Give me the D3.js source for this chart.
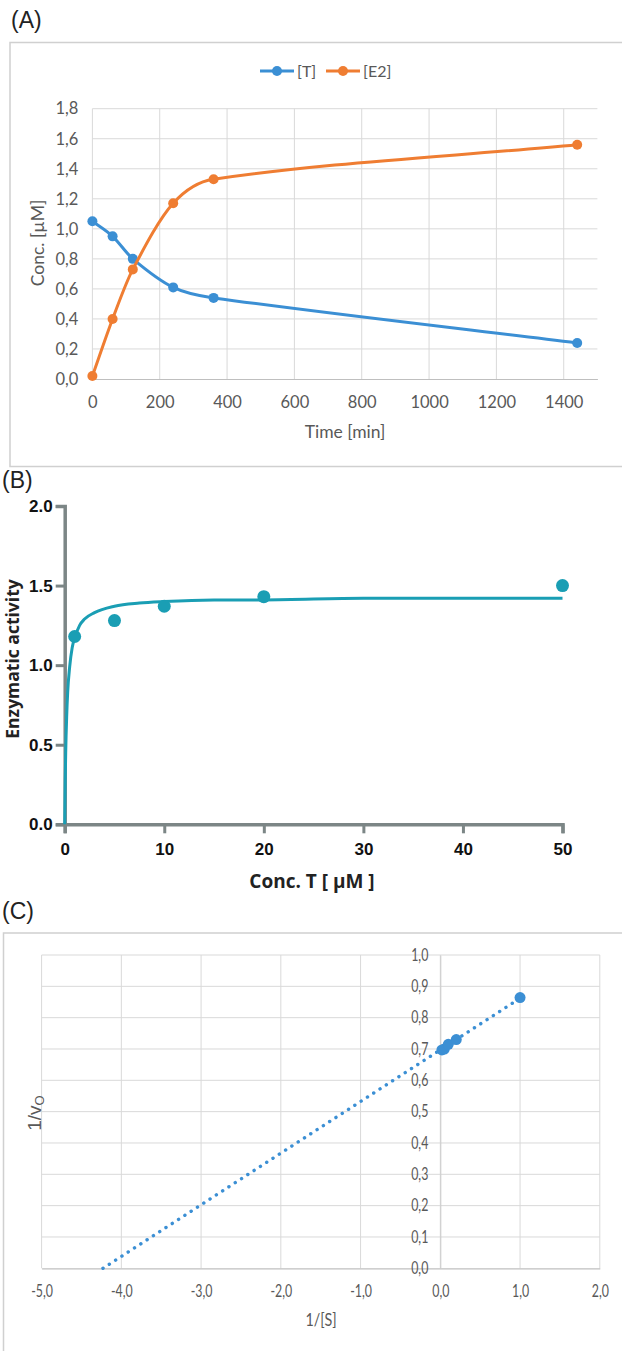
<!DOCTYPE html>
<html>
<head>
<meta charset="utf-8">
<script src="https://cdn.jsdelivr.net/npm/d3@7"></script>
<style>
  body { margin: 0; background: #fff; overflow: hidden; }
  svg { display: block; }
  .xl text { font-family: Lato, "Open Sans", sans-serif; fill: #595959; }
</style>
</head>
<body>
<div id="chart"></div>
<script>
// ---- data ----
// (A) time course
const timeMin = [0, 60, 120, 240, 360, 1440];
const concT = [1.05, 0.95, 0.80, 0.61, 0.54, 0.24];
const concE2 = [0.02, 0.40, 0.73, 1.17, 1.33, 1.56];
const ticksTime = [0, 200, 400, 600, 800, 1000, 1200, 1400];
const ticksConc = [0, 0.2, 0.4, 0.6, 0.8, 1.0, 1.2, 1.4, 1.6, 1.8];

// (B) enzymatic activity vs substrate
const substrate = [1, 5, 10, 20, 50];
const activity = [1.18, 1.28, 1.37, 1.43, 1.50];
// fitted curve
const fitX = [0, 0.05, 0.1, 0.2, 0.3, 0.5, 0.75, 1, 1.5, 2, 3, 5, 7.5, 10, 15, 20, 30, 40, 50];
const fitY = [0, 0.27, 0.45, 0.68, 0.83, 0.99, 1.11, 1.17, 1.25, 1.29, 1.33, 1.37, 1.39, 1.40, 1.41, 1.41, 1.42, 1.42, 1.42];
const ticksSub = [0, 10, 20, 30, 40, 50];
const ticksAct = [0, 0.5, 1.0, 1.5, 2.0];

// (C) Lineweaver-Burk
const invS = [0.02, 0.05, 0.1, 0.2, 1.0];
const invV = [0.697, 0.70, 0.715, 0.73, 0.864];
const trendX = [-4.23, 1.0];
const trendY = [0, 0.862];
const ticksInvS = [-5, -4, -3, -2, -1, 0, 1, 2];
const ticksInvV = [0, 0.1, 0.2, 0.3, 0.4, 0.5, 0.6, 0.7, 0.8, 0.9, 1.0];

const blue = '#3b8fd4';
const orange = '#ef7d32';
const teal = '#1a9eb4';
const gridColor = '#d9d9d9';
const comma = d => d3.format('.1f')(d).replace('.', ',').replace('\u2212', '-');

// squeeze text horizontally (panel C glyphs are narrow in the source)
function squeeze(sel, k) {
    sel.each(function() {
        const len = this.getComputedTextLength();
        d3.select(this).attr('textLength', len * k).attr('lengthAdjust', 'spacingAndGlyphs');
    });
}

// Excel-like smoothed line: cubic Hermite in x, slopes from neighbouring points
function smoothPath(xs, ys, x, y) {
    const n = xs.length;
    const m = xs.map((v, i) => {
        if (i === 0) return (ys[1] - ys[0]) / (xs[1] - xs[0]);
        if (i === n - 1) return (ys[n - 1] - ys[n - 2]) / (xs[n - 1] - xs[n - 2]);
        return (ys[i + 1] - ys[i - 1]) / (xs[i + 1] - xs[i - 1]);
    });
    const p = d3.path();
    p.moveTo(x(xs[0]), y(ys[0]));
    for (let i = 0; i < n - 1; i++) {
        const h = (xs[i + 1] - xs[i]) / 3;
        p.bezierCurveTo(
            x(xs[i] + h), y(ys[i] + m[i] * h),
            x(xs[i + 1] - h), y(ys[i + 1] - m[i + 1] * h),
            x(xs[i + 1]), y(ys[i + 1]));
    }
    return p.toString();
}

const svg = d3.select('#chart').append('svg')
    .attr('width', 622)
    .attr('height', 1351);

// panel letters
const letters = [['(A)', 11, 28], ['(B)', 2, 488], ['(C)', 2, 919]];
letters.forEach(l => {
    svg.append('text').attr('x', l[1]).attr('y', l[2])
        .style('font-family', 'Liberation Sans, Arial, sans-serif')
        .style('font-size', '23px').style('fill', '#222')
        .text(l[0]);
});

// ---------------- Panel A ----------------
function drawPanelA() {
    const g = svg.append('g').attr('class', 'xl');
    g.append('rect')
        .attr('x', 10).attr('y', 42.5).attr('width', 640).attr('height', 424)
        .attr('fill', 'none').attr('stroke', '#d0d0d0').attr('stroke-width', 1.5);

    const x = d3.scaleLinear().domain([0, 1500]).range([92.4, 597.4]);
    const y = d3.scaleLinear().domain([0, 1.8]).range([379, 108.7]);

    // grid
    g.append('g').selectAll('line').data(ticksConc.slice(1)).enter().append('line')
        .attr('x1', x(0)).attr('x2', x(1500))
        .attr('y1', d => y(d)).attr('y2', d => y(d))
        .attr('stroke', gridColor);
    g.append('g').selectAll('line').data(ticksTime).enter().append('line')
        .attr('x1', d => x(d)).attr('x2', d => x(d))
        .attr('y1', y(0)).attr('y2', y(1.8))
        .attr('stroke', gridColor);

    // axes
    const xAxis = g.append('g')
        .attr('transform', `translate(0,${y(0)})`)
        .call(d3.axisBottom(x).tickValues(ticksTime).tickFormat(d3.format('d')).tickSize(0).tickPadding(17));
    xAxis.select('.domain').attr('stroke', '#bfbfbf').attr('stroke-width', 1.2);
    xAxis.selectAll('text').style('font-size', '16.5px');

    const yAxis = g.append('g')
        .attr('transform', `translate(${x(0)},0)`)
        .call(d3.axisLeft(y).tickValues(ticksConc).tickFormat(comma).tickSize(0).tickPadding(14));
    yAxis.select('.domain').remove();
    yAxis.selectAll('text').style('font-size', '16.5px');

    g.append('text')
        .attr('x', 345).attr('y', 438)
        .attr('text-anchor', 'middle')
        .style('font-size', '17.5px')
        .text('Time [min]');
    g.append('text')
        .attr('transform', 'translate(44,243) rotate(-90)')
        .attr('text-anchor', 'middle')
        .style('font-size', '17.5px')
        .text('Conc. [µM]');

    // series
    const series = [
        {name: '[T]', values: concT, color: blue},
        {name: '[E2]', values: concE2, color: orange}
    ];

    series.forEach(s => {
        g.append('path')
            .attr('d', smoothPath(timeMin, s.values, x, y))
            .attr('fill', 'none')
            .attr('stroke', s.color)
            .attr('stroke-width', 3);
        g.selectAll(null).data(timeMin).enter().append('circle')
            .attr('cx', d => x(d)).attr('cy', (d, i) => y(s.values[i]))
            .attr('r', 5)
            .attr('fill', s.color);
    });

    // legend
    const legX = [260, 326];
    series.forEach((s, i) => {
        const lg = g.append('g').attr('transform', `translate(${legX[i]},71)`);
        lg.append('line').attr('x1', 0).attr('x2', 34).attr('y1', 0).attr('y2', 0)
            .attr('stroke', s.color).attr('stroke-width', 3);
        lg.append('circle').attr('cx', 17).attr('cy', 0).attr('r', 5).attr('fill', s.color);
        lg.append('text').attr('x', 37).attr('y', 6)
            .style('font-size', '16px')
            .text(s.name);
    });
}

// ---------------- Panel B ----------------
function drawPanelB() {
    const g = svg.append('g');
    const x = d3.scaleLinear().domain([0, 50]).range([64.7, 562.5]);
    const y = d3.scaleLinear().domain([0, 2]).range([824.3, 506]);
    const axisColor = '#7c8686';
    const font = 'Liberation Sans, Arial, sans-serif';

    const xAxis = g.append('g')
        .attr('transform', `translate(0,${y(0)})`)
        .call(d3.axisBottom(x).tickValues(ticksSub).tickSizeOuter(0).tickSize(9).tickPadding(10));
    const yAxis = g.append('g')
        .attr('transform', `translate(${x(0)},0)`)
        .call(d3.axisLeft(y).tickValues(ticksAct).tickFormat(d3.format('.1f')).tickSizeOuter(0).tickSize(9).tickPadding(3));
    [xAxis, yAxis].forEach(a => {
        a.select('.domain').attr('stroke', axisColor).attr('stroke-width', 3.5);
        a.selectAll('.tick line').attr('stroke', axisColor).attr('stroke-width', 3);
        a.selectAll('text')
            .style('font-family', font).style('font-weight', 'bold')
            .style('font-size', '17px').style('fill', '#111');
    });

    g.append('text')
        .attr('x', 312).attr('y', 888)
        .attr('text-anchor', 'middle')
        .style('font-family', 'Open Sans, sans-serif').style('font-weight', 'bold')
        .style('font-size', '19px').style('fill', '#222')
        .text('Conc. T [ µM ]');
    g.append('text')
        .attr('transform', 'translate(19,659) rotate(-90)')
        .attr('text-anchor', 'middle')
        .style('font-family', 'Open Sans, sans-serif').style('font-weight', 'bold')
        .style('font-size', '17.5px').style('fill', '#222')
        .text('Enzymatic activity');

    const fit = fitX.map((v, i) => [v, fitY[i]]);
    g.append('path')
        .datum(fit)
        .attr('d', d3.line().x(d => x(d[0])).y(d => y(d[1])).curve(d3.curveMonotoneX))
        .attr('fill', 'none')
        .attr('stroke', teal)
        .attr('stroke-width', 3);

    g.selectAll('circle.pt').data(substrate).enter().append('circle')
        .attr('cx', d => x(d))
        .attr('cy', (d, i) => y(activity[i]))
        .attr('r', 6.5)
        .attr('fill', teal);
}

// ---------------- Panel C ----------------
function drawPanelC() {
    const g = svg.append('g').attr('class', 'xl');
    g.append('rect')
        .attr('x', 3.5).attr('y', 933).attr('width', 640).attr('height', 440)
        .attr('fill', 'none').attr('stroke', '#d0d0d0').attr('stroke-width', 1.5);

    const x = d3.scaleLinear().domain([-5, 2]).range([41.6, 599.8]);
    const y = d3.scaleLinear().domain([0, 1]).range([1268.3, 955]);

    g.append('g').selectAll('line').data(ticksInvV.slice(1)).enter().append('line')
        .attr('x1', x(-5)).attr('x2', x(2))
        .attr('y1', d => y(d)).attr('y2', d => y(d))
        .attr('stroke', gridColor);
    g.append('g').selectAll('line').data(ticksInvS).enter().append('line')
        .attr('x1', d => x(d)).attr('x2', d => x(d))
        .attr('y1', y(0)).attr('y2', y(1))
        .attr('stroke', gridColor);

    const xAxis = g.append('g')
        .attr('transform', `translate(0,${y(0)})`)
        .call(d3.axisBottom(x).tickValues(ticksInvS).tickFormat(comma).tickSize(0).tickPadding(17));
    xAxis.select('.domain').attr('stroke', '#bfbfbf').attr('stroke-width', 1.2);
    xAxis.selectAll('text').style('font-size', '16.5px').call(squeeze, 0.75);

    const yAxis = g.append('g')
        .attr('transform', `translate(${x(0)},0)`)
        .call(d3.axisLeft(y).tickValues(ticksInvV).tickFormat(comma).tickSize(0).tickPadding(12));
    yAxis.select('.domain').attr('stroke', '#cccccc');
    yAxis.selectAll('text').style('font-size', '16.5px').call(squeeze, 0.75);

    g.append('text')
        .attr('x', 321).attr('y', 1326)
        .attr('text-anchor', 'middle')
        .style('font-size', '17.5px')
        .text('1/[S]')
        .call(squeeze, 0.82);
    const yt = g.append('text')
        .attr('transform', 'translate(41,1113) rotate(-90)')
        .attr('text-anchor', 'middle')
        .style('font-size', '19px')
        .style('font-family', 'Liberation Sans, Arial, sans-serif');
    yt.append('tspan').text('1/v');
    yt.append('tspan').attr('dy', 3).style('font-size', '13px').text('O');

    // trendline
    const trend = trendX.map((v, i) => [v, trendY[i]]);
    g.append('path')
        .datum(trend)
        .attr('d', d3.line().x(d => x(d[0])).y(d => y(d[1])))
        .attr('fill', 'none')
        .attr('stroke', blue)
        .attr('stroke-width', 3.4)
        .attr('stroke-linecap', 'round')
        .attr('stroke-dasharray', '0.1,7.4');

    g.selectAll('circle.pt').data(invS).enter().append('circle')
        .attr('cx', d => x(d))
        .attr('cy', (d, i) => y(invV[i]))
        .attr('r', 5.5)
        .attr('fill', blue);
}

drawPanelA();
drawPanelB();
drawPanelC();
</script>
</body>
</html>
